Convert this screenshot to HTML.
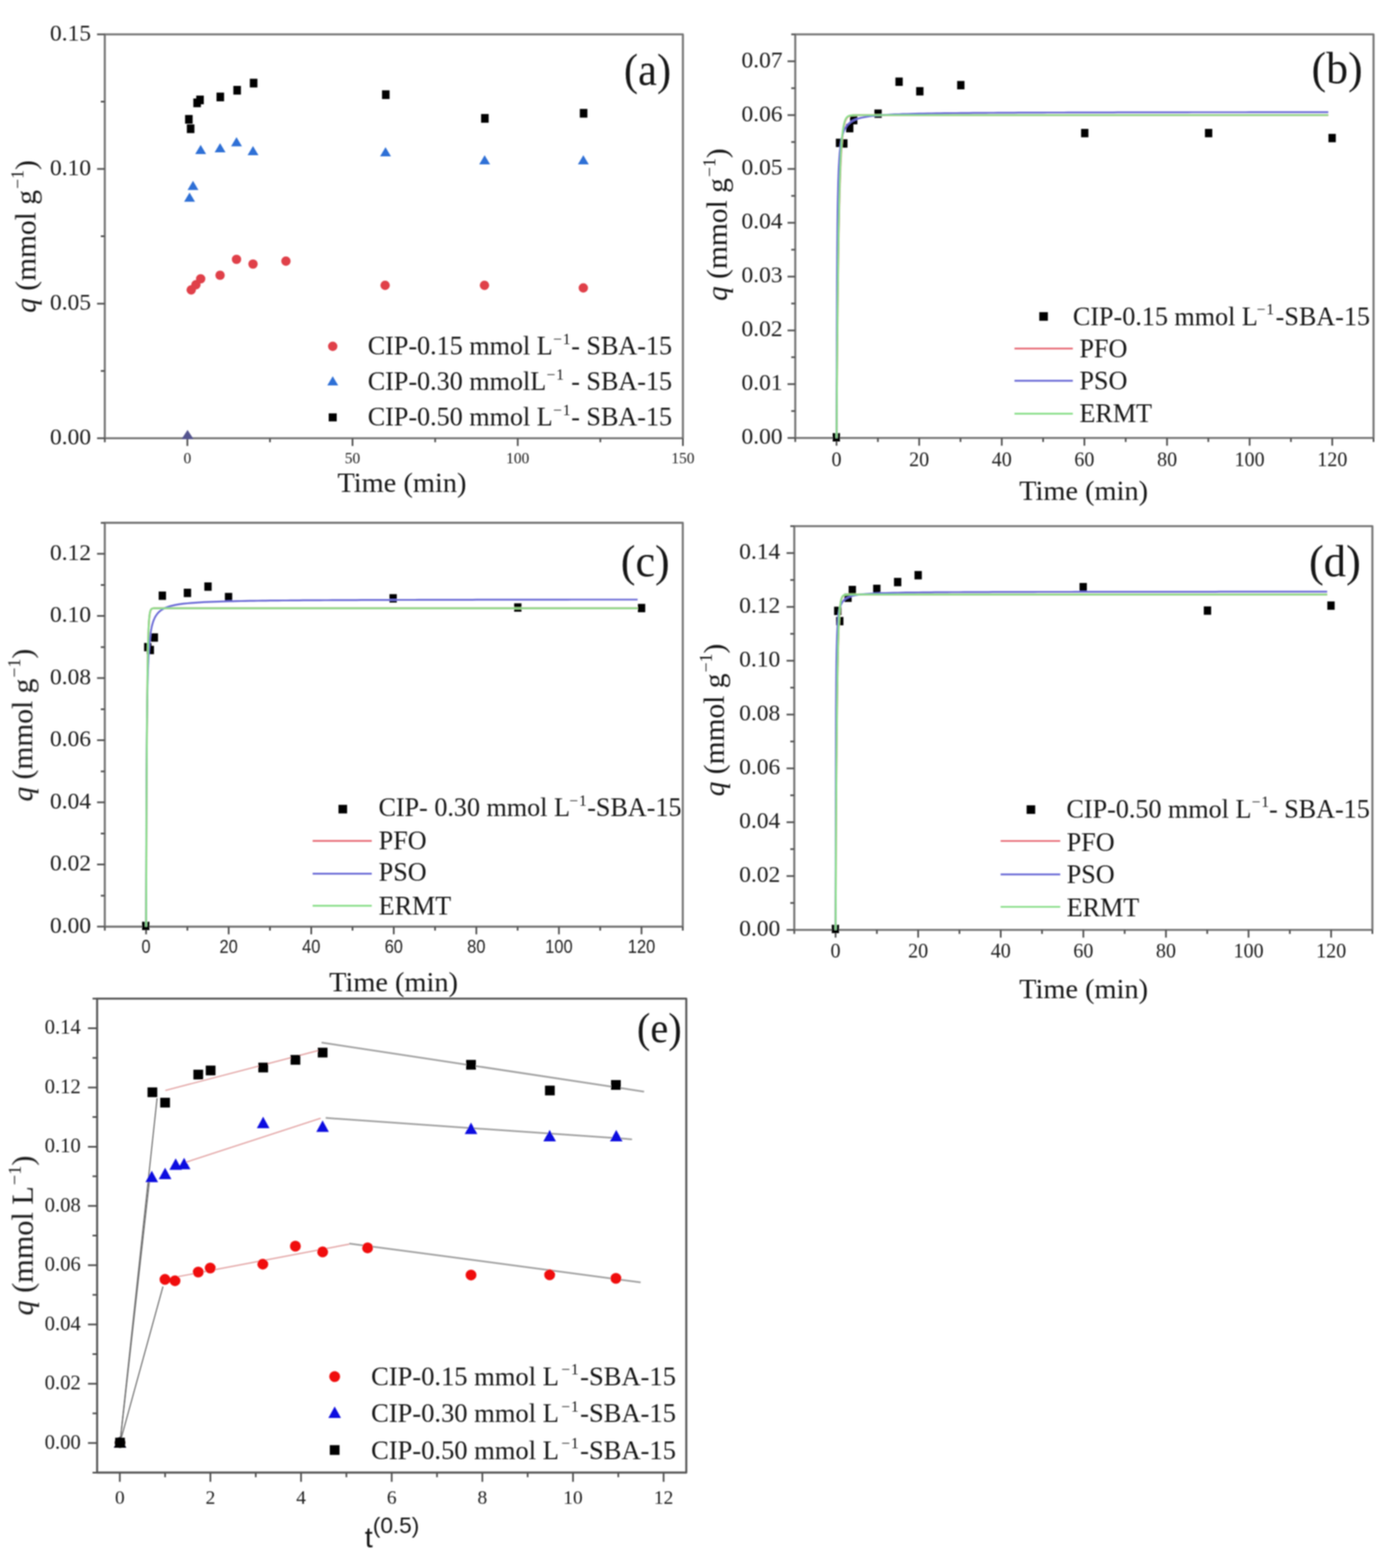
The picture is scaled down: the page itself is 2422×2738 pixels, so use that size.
<!DOCTYPE html>
<html><head><meta charset="utf-8"><title>Adsorption kinetics of CIP on SBA-15</title>
<style>html,body{margin:0;padding:0;background:#fff;overflow:hidden;} svg{display:block;}</style></head>
<body><svg width="2422" height="2738" viewBox="0 0 2422 2738">
<defs><filter id="soft" x="0" y="0" width="100%" height="100%" filterUnits="userSpaceOnUse"><feGaussianBlur stdDeviation="1.2"/></filter></defs>
<rect width="2422" height="2738" fill="#fff"/>
<g filter="url(#soft)" stroke-linejoin="round">
<rect x="183.0" y="60.0" width="1009.5" height="705.3" fill="none" stroke="#767676" stroke-width="3.6"/>
<path d="M327.2 765.3v13.5 M615.6 765.3v13.5 M904.1 765.3v13.5 M1192.5 765.3v13.5 M183.0 765.3v7 M471.4 765.3v7 M759.9 765.3v7 M1048.3 765.3v7 M183.0 765.3h-13.5 M183.0 530.2h-13.5 M183.0 295.1h-13.5 M183.0 60.0h-13.5 M183.0 647.8h-7 M183.0 412.6h-7 M183.0 177.5h-7" stroke="#505050" stroke-width="3" fill="none"/>
<text x="159.0" y="775.8" font-family="'Liberation Serif', 'Times New Roman', serif" font-size="41" text-anchor="end" fill="#1e1e1e" >0.00</text>
<text x="159.0" y="540.7" font-family="'Liberation Serif', 'Times New Roman', serif" font-size="41" text-anchor="end" fill="#1e1e1e" >0.05</text>
<text x="159.0" y="305.6" font-family="'Liberation Serif', 'Times New Roman', serif" font-size="41" text-anchor="end" fill="#1e1e1e" >0.10</text>
<text x="159.0" y="70.5" font-family="'Liberation Serif', 'Times New Roman', serif" font-size="41" text-anchor="end" fill="#1e1e1e" >0.15</text>
<text x="327.2" y="809.0" font-family="'Liberation Serif', 'Times New Roman', serif" font-size="27" text-anchor="middle" fill="#1e1e1e" >0</text>
<text x="615.6" y="809.0" font-family="'Liberation Serif', 'Times New Roman', serif" font-size="27" text-anchor="middle" fill="#1e1e1e" >50</text>
<text x="904.1" y="809.0" font-family="'Liberation Serif', 'Times New Roman', serif" font-size="27" text-anchor="middle" fill="#1e1e1e" >100</text>
<text x="1192.5" y="809.0" font-family="'Liberation Serif', 'Times New Roman', serif" font-size="27" text-anchor="middle" fill="#1e1e1e" >150</text>
<text x="701.9" y="859.4" font-family="'Liberation Serif', 'Times New Roman', serif" font-size="49.5" text-anchor="middle" fill="#141414" >Time (min)</text>
<text transform="translate(1130.7,148.3) scale(0.95,1)" font-family="'Liberation Serif', 'Times New Roman', serif" font-size="78" text-anchor="middle" fill="#141414" >(a)</text>
<text transform="translate(61.8,413.0) rotate(-90)" font-family="'Liberation Serif', 'Times New Roman', serif" font-size="51.5" text-anchor="middle" fill="#141414"><tspan font-style="italic">q</tspan> (mmol g<tspan font-size="30.9" dy="-20.6" dx="2">&#8722;1</tspan><tspan dy="20.6">)</tspan></text>
<path d="M327.5 750.7L338.0 766.7L317.0 766.7Z" fill="#55558f"/>
<circle cx="333.9" cy="506.3" r="8.2" fill="#e0404a"/>
<circle cx="342.1" cy="497.2" r="8.2" fill="#e0404a"/>
<circle cx="350.4" cy="486.9" r="8.2" fill="#e0404a"/>
<circle cx="384.3" cy="480.6" r="8.2" fill="#e0404a"/>
<circle cx="413.0" cy="452.9" r="8.2" fill="#e0404a"/>
<circle cx="441.8" cy="461.1" r="8.2" fill="#e0404a"/>
<circle cx="499.3" cy="456.0" r="8.2" fill="#e0404a"/>
<circle cx="672.5" cy="498.2" r="8.2" fill="#e0404a"/>
<circle cx="846.0" cy="498.2" r="8.2" fill="#e0404a"/>
<circle cx="1018.6" cy="502.8" r="8.2" fill="#e0404a"/>
<path d="M331.0 336.2L340.5 352.2L321.5 352.2Z" fill="#2f6fd6"/>
<path d="M337.0 315.7L346.5 331.7L327.5 331.7Z" fill="#2f6fd6"/>
<path d="M350.4 253.0L359.9 269.0L340.9 269.0Z" fill="#2f6fd6"/>
<path d="M384.3 249.9L393.8 265.9L374.8 265.9Z" fill="#2f6fd6"/>
<path d="M413.0 239.6L422.5 255.6L403.5 255.6Z" fill="#2f6fd6"/>
<path d="M441.8 255.1L451.3 271.1L432.3 271.1Z" fill="#2f6fd6"/>
<path d="M673.2 257.1L682.7 273.1L663.7 273.1Z" fill="#2f6fd6"/>
<path d="M846.3 271.0L855.8 287.0L836.8 287.0Z" fill="#2f6fd6"/>
<path d="M1018.6 271.0L1028.1 287.0L1009.1 287.0Z" fill="#2f6fd6"/>
<rect x="323.2" y="200.8" width="13.2" height="15.2" fill="#000"/>
<rect x="326.3" y="217.2" width="13.2" height="15.2" fill="#000"/>
<rect x="337.6" y="172.0" width="13.2" height="15.2" fill="#000"/>
<rect x="342.7" y="166.9" width="13.2" height="15.2" fill="#000"/>
<rect x="378.1" y="161.7" width="13.2" height="15.2" fill="#000"/>
<rect x="407.5" y="150.0" width="13.2" height="15.2" fill="#000"/>
<rect x="436.3" y="137.5" width="13.2" height="15.2" fill="#000"/>
<rect x="667.1" y="157.7" width="13.2" height="15.2" fill="#000"/>
<rect x="840.1" y="199.1" width="13.2" height="15.2" fill="#000"/>
<rect x="1012.5" y="190.2" width="13.2" height="15.2" fill="#000"/>
<circle cx="581.0" cy="604.7" r="8.2" fill="#e0404a"/>
<path d="M581.0 656.9L590.5 672.9L571.5 672.9Z" fill="#2f6fd6"/>
<rect x="574.0" y="721.8" width="14" height="14" fill="#000"/>
<text font-family="'Liberation Serif', 'Times New Roman', serif" font-size="45.6" fill="#141414"><tspan x="642.2" y="619.3">CIP-0.15 mmol L</tspan><tspan x="966.0" y="600.8" font-size="27">&#8722;</tspan><tspan x="982.8" y="600.8" font-size="27">1</tspan><tspan x="997.5" y="619.3">- SBA-15</tspan></text>
<text font-family="'Liberation Serif', 'Times New Roman', serif" font-size="45.6" fill="#141414"><tspan x="642.2" y="681.4">CIP-0.30 mmolL</tspan><tspan x="954.4" y="662.9" font-size="27">&#8722;</tspan><tspan x="971.2" y="662.9" font-size="27">1</tspan><tspan x="997.5" y="681.4">- SBA-15</tspan></text>
<text font-family="'Liberation Serif', 'Times New Roman', serif" font-size="45.6" fill="#141414"><tspan x="642.2" y="743.4">CIP-0.50 mmol L</tspan><tspan x="966.0" y="724.9" font-size="27">&#8722;</tspan><tspan x="982.8" y="724.9" font-size="27">1</tspan><tspan x="997.5" y="743.4">- SBA-15</tspan></text>
<rect x="1388.7" y="60.0" width="1009.8" height="704.8" fill="none" stroke="#767676" stroke-width="3.6"/>
<path d="M1460.8 764.8v13.5 M1605.1 764.8v13.5 M1749.3 764.8v13.5 M1893.6 764.8v13.5 M2037.9 764.8v13.5 M2182.1 764.8v13.5 M2326.4 764.8v13.5 M1388.7 764.8v7 M1533.0 764.8v7 M1677.2 764.8v7 M1821.5 764.8v7 M1965.7 764.8v7 M2110.0 764.8v7 M2254.2 764.8v7 M2398.5 764.8v7 M1388.7 764.8h-13.5 M1388.7 670.8h-13.5 M1388.7 576.9h-13.5 M1388.7 482.9h-13.5 M1388.7 388.9h-13.5 M1388.7 294.9h-13.5 M1388.7 201.0h-13.5 M1388.7 107.0h-13.5 M1388.7 717.8h-7 M1388.7 623.8h-7 M1388.7 529.9h-7 M1388.7 435.9h-7 M1388.7 341.9h-7 M1388.7 247.9h-7 M1388.7 154.0h-7 M1388.7 60.0h-7" stroke="#505050" stroke-width="3" fill="none"/>
<text x="1366.5" y="775.3" font-family="'Liberation Serif', 'Times New Roman', serif" font-size="41" text-anchor="end" fill="#1e1e1e" >0.00</text>
<text x="1366.5" y="681.3" font-family="'Liberation Serif', 'Times New Roman', serif" font-size="41" text-anchor="end" fill="#1e1e1e" >0.01</text>
<text x="1366.5" y="587.4" font-family="'Liberation Serif', 'Times New Roman', serif" font-size="41" text-anchor="end" fill="#1e1e1e" >0.02</text>
<text x="1366.5" y="493.4" font-family="'Liberation Serif', 'Times New Roman', serif" font-size="41" text-anchor="end" fill="#1e1e1e" >0.03</text>
<text x="1366.5" y="399.4" font-family="'Liberation Serif', 'Times New Roman', serif" font-size="41" text-anchor="end" fill="#1e1e1e" >0.04</text>
<text x="1366.5" y="305.4" font-family="'Liberation Serif', 'Times New Roman', serif" font-size="41" text-anchor="end" fill="#1e1e1e" >0.05</text>
<text x="1366.5" y="211.5" font-family="'Liberation Serif', 'Times New Roman', serif" font-size="41" text-anchor="end" fill="#1e1e1e" >0.06</text>
<text x="1366.5" y="117.5" font-family="'Liberation Serif', 'Times New Roman', serif" font-size="41" text-anchor="end" fill="#1e1e1e" >0.07</text>
<text x="1460.8" y="814.0" font-family="'Liberation Serif', 'Times New Roman', serif" font-size="35" text-anchor="middle" fill="#1e1e1e" >0</text>
<text x="1605.1" y="814.0" font-family="'Liberation Serif', 'Times New Roman', serif" font-size="35" text-anchor="middle" fill="#1e1e1e" >20</text>
<text x="1749.3" y="814.0" font-family="'Liberation Serif', 'Times New Roman', serif" font-size="35" text-anchor="middle" fill="#1e1e1e" >40</text>
<text x="1893.6" y="814.0" font-family="'Liberation Serif', 'Times New Roman', serif" font-size="35" text-anchor="middle" fill="#1e1e1e" >60</text>
<text x="2037.9" y="814.0" font-family="'Liberation Serif', 'Times New Roman', serif" font-size="35" text-anchor="middle" fill="#1e1e1e" >80</text>
<text x="2182.1" y="814.0" font-family="'Liberation Serif', 'Times New Roman', serif" font-size="35" text-anchor="middle" fill="#1e1e1e" >100</text>
<text x="2326.4" y="814.0" font-family="'Liberation Serif', 'Times New Roman', serif" font-size="35" text-anchor="middle" fill="#1e1e1e" >120</text>
<text x="1892.2" y="873.4" font-family="'Liberation Serif', 'Times New Roman', serif" font-size="49.5" text-anchor="middle" fill="#141414" >Time (min)</text>
<text transform="translate(2334.9,144.6) scale(0.98,1)" font-family="'Liberation Serif', 'Times New Roman', serif" font-size="78" text-anchor="middle" fill="#141414" >(b)</text>
<text transform="translate(1269.3,392.3) rotate(-90)" font-family="'Liberation Serif', 'Times New Roman', serif" font-size="51.5" text-anchor="middle" fill="#141414"><tspan font-style="italic">q</tspan> (mmol g<tspan font-size="30.9" dy="-20.6" dx="2">&#8722;1</tspan><tspan dy="20.6">)</tspan></text>
<rect x="1454.0" y="756.3" width="12.8" height="14.6" fill="#000"/>
<rect x="1459.6" y="242.2" width="12.8" height="14.6" fill="#000"/>
<rect x="1467.1" y="243.2" width="12.8" height="14.6" fill="#000"/>
<rect x="1477.4" y="216.5" width="12.8" height="14.6" fill="#000"/>
<rect x="1484.4" y="202.5" width="12.8" height="14.6" fill="#000"/>
<rect x="1526.9" y="191.2" width="12.8" height="14.6" fill="#000"/>
<rect x="1563.6" y="135.4" width="12.8" height="14.6" fill="#000"/>
<rect x="1599.8" y="152.1" width="12.8" height="14.6" fill="#000"/>
<rect x="1671.4" y="141.4" width="12.8" height="14.6" fill="#000"/>
<rect x="1887.8" y="225.1" width="12.8" height="14.6" fill="#000"/>
<rect x="2104.1" y="225.1" width="12.8" height="14.6" fill="#000"/>
<rect x="2319.8" y="233.8" width="12.8" height="14.6" fill="#000"/>
<path d="M1460.8 764.8 L1461.2 713.7 L1461.5 667.2 L1461.9 625.0 L1462.3 586.5 L1462.6 551.6 L1463.0 519.8 L1463.4 490.9 L1463.7 464.6 L1464.1 440.8 L1464.4 419.0 L1464.8 399.3 L1465.2 381.3 L1465.5 364.9 L1465.9 350.1 L1466.2 336.6 L1466.6 324.3 L1467.0 313.1 L1467.3 302.9 L1467.7 293.7 L1468.0 285.3 L1468.4 277.6 L1468.8 270.7 L1469.1 264.4 L1469.5 258.6 L1469.8 253.4 L1470.2 248.7 L1470.6 244.3 L1470.9 240.4 L1471.3 236.8 L1471.6 233.6 L1472.0 230.6 L1472.4 227.9 L1472.7 225.5 L1473.1 223.3 L1473.5 221.2 L1473.8 219.4 L1474.2 217.7 L1474.5 216.2 L1474.9 214.8 L1475.3 213.6 L1475.6 212.4 L1476.0 211.4 L1476.3 210.4 L1476.7 209.6 L1477.1 208.8 L1477.4 208.1 L1477.8 207.4 L1478.1 206.9 L1478.5 206.3 L1478.9 205.8 L1479.2 205.4 L1479.6 205.0 L1479.9 204.6 L1480.3 204.3 L1480.7 204.0 L1481.0 203.7 L1481.4 203.5 L1481.7 203.2 L1482.1 203.0 L1482.5 202.8 L1482.8 202.7 L1483.2 202.5 L1483.5 202.4 L1483.9 202.3 L1484.3 202.1 L1484.6 202.0 L1485.0 201.9 L1485.4 201.8 L1485.7 201.8 L1486.1 201.7 L1486.4 201.6 L1486.8 201.6 L1487.2 201.5 L1487.5 201.5 L1487.9 201.4 L1488.2 201.4 L1488.6 201.3 L1489.0 201.3 L1489.3 201.3 L1489.7 201.2 L1490.0 201.2 L1490.4 201.2 L1490.8 201.2 L1491.1 201.2 L1491.5 201.1 L1491.8 201.1 L1492.2 201.1 L1492.6 201.1 L1492.9 201.1 L1493.3 201.1 L1493.6 201.1 L1494.0 201.1 L1494.4 201.0 L1494.7 201.0 L1495.1 201.0 L1495.5 201.0 L1495.8 201.0 L1496.2 201.0 L1496.5 201.0 L1496.9 201.0 L1497.3 201.0 L1497.6 201.0 L1498.0 201.0 L1498.3 201.0 L1498.7 201.0 L1499.1 201.0 L1499.4 201.0 L1499.8 201.0 L1500.1 201.0 L1500.5 201.0 L1500.9 201.0 L1501.2 201.0 L1501.6 201.0 L1501.9 201.0 L1502.3 201.0 L1502.7 201.0 L1503.0 201.0 L1503.4 201.0 L1503.7 201.0 L1504.1 201.0 L1504.5 201.0 L1511.7 201.0 L1518.9 201.0 L1526.1 201.0 L1533.3 201.0 L1540.5 201.0 L1547.7 201.0 L1555.0 201.0 L1562.2 201.0 L1569.4 201.0 L1576.6 201.0 L1583.8 201.0 L1591.0 201.0 L1598.2 201.0 L1605.4 201.0 L1612.7 201.0 L1619.9 201.0 L1627.1 201.0 L1634.3 201.0 L1641.5 201.0 L1648.7 201.0 L1655.9 201.0 L1663.1 201.0 L1670.4 201.0 L1677.6 201.0 L1684.8 201.0 L1692.0 201.0 L1699.2 201.0 L1706.4 201.0 L1713.6 201.0 L1720.9 201.0 L1728.1 201.0 L1735.3 201.0 L1742.5 201.0 L1749.7 201.0 L1756.9 201.0 L1764.1 201.0 L1771.3 201.0 L1778.6 201.0 L1785.8 201.0 L1793.0 201.0 L1800.2 201.0 L1807.4 201.0 L1814.6 201.0 L1821.8 201.0 L1829.0 201.0 L1836.3 201.0 L1843.5 201.0 L1850.7 201.0 L1857.9 201.0 L1865.1 201.0 L1872.3 201.0 L1879.5 201.0 L1886.7 201.0 L1894.0 201.0 L1901.2 201.0 L1908.4 201.0 L1915.6 201.0 L1922.8 201.0 L1930.0 201.0 L1937.2 201.0 L1944.5 201.0 L1951.7 201.0 L1958.9 201.0 L1966.1 201.0 L1973.3 201.0 L1980.5 201.0 L1987.7 201.0 L1994.9 201.0 L2002.2 201.0 L2009.4 201.0 L2016.6 201.0 L2023.8 201.0 L2031.0 201.0 L2038.2 201.0 L2045.4 201.0 L2052.6 201.0 L2059.9 201.0 L2067.1 201.0 L2074.3 201.0 L2081.5 201.0 L2088.7 201.0 L2095.9 201.0 L2103.1 201.0 L2110.3 201.0 L2117.6 201.0 L2124.8 201.0 L2132.0 201.0 L2139.2 201.0 L2146.4 201.0 L2153.6 201.0 L2160.8 201.0 L2168.0 201.0 L2175.3 201.0 L2182.5 201.0 L2189.7 201.0 L2196.9 201.0 L2204.1 201.0 L2211.3 201.0 L2218.5 201.0 L2225.8 201.0 L2233.0 201.0 L2240.2 201.0 L2247.4 201.0 L2254.6 201.0 L2261.8 201.0 L2269.0 201.0 L2276.2 201.0 L2283.5 201.0 L2290.7 201.0 L2297.9 201.0 L2305.1 201.0 L2312.3 201.0 L2319.5 201.0" stroke="#e8707a" stroke-width="3.2" fill="none" stroke-linejoin="round" stroke-linecap="butt" />
<path d="M1460.8 764.8 L1461.2 586.9 L1461.5 493.6 L1461.9 436.3 L1462.3 397.4 L1462.6 369.3 L1463.0 348.1 L1463.4 331.5 L1463.7 318.2 L1464.1 307.2 L1464.4 298.0 L1464.8 290.2 L1465.2 283.6 L1465.5 277.8 L1465.9 272.7 L1466.2 268.2 L1466.6 264.2 L1467.0 260.6 L1467.3 257.3 L1467.7 254.4 L1468.0 251.8 L1468.4 249.3 L1468.8 247.1 L1469.1 245.0 L1469.5 243.1 L1469.8 241.4 L1470.2 239.8 L1470.6 238.2 L1470.9 236.8 L1471.3 235.5 L1471.6 234.2 L1472.0 233.1 L1472.4 232.0 L1472.7 230.9 L1473.1 229.9 L1473.5 229.0 L1473.8 228.1 L1474.2 227.3 L1474.5 226.5 L1474.9 225.7 L1475.3 225.0 L1475.6 224.3 L1476.0 223.7 L1476.3 223.0 L1476.7 222.4 L1477.1 221.9 L1477.4 221.3 L1477.8 220.8 L1478.1 220.3 L1478.5 219.8 L1478.9 219.3 L1479.2 218.9 L1479.6 218.4 L1479.9 218.0 L1480.3 217.6 L1480.7 217.2 L1481.0 216.9 L1481.4 216.5 L1481.7 216.1 L1482.1 215.8 L1482.5 215.5 L1482.8 215.1 L1483.2 214.8 L1483.5 214.5 L1483.9 214.2 L1484.3 214.0 L1484.6 213.7 L1485.0 213.4 L1485.4 213.2 L1485.7 212.9 L1486.1 212.7 L1486.4 212.4 L1486.8 212.2 L1487.2 212.0 L1487.5 211.8 L1487.9 211.6 L1488.2 211.3 L1488.6 211.1 L1489.0 210.9 L1489.3 210.8 L1489.7 210.6 L1490.0 210.4 L1490.4 210.2 L1490.8 210.0 L1491.1 209.9 L1491.5 209.7 L1491.8 209.5 L1492.2 209.4 L1492.6 209.2 L1492.9 209.1 L1493.3 208.9 L1493.6 208.8 L1494.0 208.6 L1494.4 208.5 L1494.7 208.3 L1495.1 208.2 L1495.5 208.1 L1495.8 208.0 L1496.2 207.8 L1496.5 207.7 L1496.9 207.6 L1497.3 207.5 L1497.6 207.3 L1498.0 207.2 L1498.3 207.1 L1498.7 207.0 L1499.1 206.9 L1499.4 206.8 L1499.8 206.7 L1500.1 206.6 L1500.5 206.5 L1500.9 206.4 L1501.2 206.3 L1501.6 206.2 L1501.9 206.1 L1502.3 206.0 L1502.7 205.9 L1503.0 205.8 L1503.4 205.7 L1503.7 205.7 L1504.1 205.6 L1504.5 205.5 L1511.7 204.1 L1518.9 203.0 L1526.1 202.2 L1533.3 201.5 L1540.5 200.9 L1547.7 200.5 L1555.0 200.1 L1562.2 199.7 L1569.4 199.5 L1576.6 199.2 L1583.8 199.0 L1591.0 198.8 L1598.2 198.6 L1605.4 198.4 L1612.7 198.3 L1619.9 198.1 L1627.1 198.0 L1634.3 197.9 L1641.5 197.8 L1648.7 197.7 L1655.9 197.6 L1663.1 197.5 L1670.4 197.5 L1677.6 197.4 L1684.8 197.3 L1692.0 197.3 L1699.2 197.2 L1706.4 197.2 L1713.6 197.1 L1720.9 197.1 L1728.1 197.0 L1735.3 197.0 L1742.5 196.9 L1749.7 196.9 L1756.9 196.8 L1764.1 196.8 L1771.3 196.8 L1778.6 196.7 L1785.8 196.7 L1793.0 196.7 L1800.2 196.7 L1807.4 196.6 L1814.6 196.6 L1821.8 196.6 L1829.0 196.5 L1836.3 196.5 L1843.5 196.5 L1850.7 196.5 L1857.9 196.5 L1865.1 196.4 L1872.3 196.4 L1879.5 196.4 L1886.7 196.4 L1894.0 196.4 L1901.2 196.3 L1908.4 196.3 L1915.6 196.3 L1922.8 196.3 L1930.0 196.3 L1937.2 196.3 L1944.5 196.3 L1951.7 196.2 L1958.9 196.2 L1966.1 196.2 L1973.3 196.2 L1980.5 196.2 L1987.7 196.2 L1994.9 196.2 L2002.2 196.2 L2009.4 196.1 L2016.6 196.1 L2023.8 196.1 L2031.0 196.1 L2038.2 196.1 L2045.4 196.1 L2052.6 196.1 L2059.9 196.1 L2067.1 196.1 L2074.3 196.1 L2081.5 196.0 L2088.7 196.0 L2095.9 196.0 L2103.1 196.0 L2110.3 196.0 L2117.6 196.0 L2124.8 196.0 L2132.0 196.0 L2139.2 196.0 L2146.4 196.0 L2153.6 196.0 L2160.8 196.0 L2168.0 196.0 L2175.3 196.0 L2182.5 195.9 L2189.7 195.9 L2196.9 195.9 L2204.1 195.9 L2211.3 195.9 L2218.5 195.9 L2225.8 195.9 L2233.0 195.9 L2240.2 195.9 L2247.4 195.9 L2254.6 195.9 L2261.8 195.9 L2269.0 195.9 L2276.2 195.9 L2283.5 195.9 L2290.7 195.9 L2297.9 195.9 L2305.1 195.9 L2312.3 195.9 L2319.5 195.8" stroke="#6a6ad6" stroke-width="3.2" fill="none" stroke-linejoin="round" stroke-linecap="butt" />
<path d="M1460.8 764.8 L1461.2 711.1 L1461.5 662.6 L1461.9 618.7 L1462.3 578.9 L1462.6 542.9 L1463.0 510.4 L1463.4 481.0 L1463.7 454.3 L1464.1 430.2 L1464.4 408.4 L1464.8 388.6 L1465.2 370.8 L1465.5 354.6 L1465.9 340.0 L1466.2 326.8 L1466.6 314.8 L1467.0 304.0 L1467.3 294.2 L1467.7 285.3 L1468.0 277.3 L1468.4 270.0 L1468.8 263.4 L1469.1 257.5 L1469.5 252.1 L1469.8 247.2 L1470.2 242.8 L1470.6 238.9 L1470.9 235.2 L1471.3 232.0 L1471.6 229.0 L1472.0 226.4 L1472.4 223.9 L1472.7 221.8 L1473.1 219.8 L1473.5 218.0 L1473.8 216.4 L1474.2 214.9 L1474.5 213.6 L1474.9 212.4 L1475.3 211.3 L1475.6 210.3 L1476.0 209.4 L1476.3 208.6 L1476.7 207.9 L1477.1 207.2 L1477.4 206.6 L1477.8 206.1 L1478.1 205.6 L1478.5 205.2 L1478.9 204.8 L1479.2 204.4 L1479.6 204.1 L1479.9 203.8 L1480.3 203.5 L1480.7 203.3 L1481.0 203.0 L1481.4 202.8 L1481.7 202.7 L1482.1 202.5 L1482.5 202.4 L1482.8 202.2 L1483.2 202.1 L1483.5 202.0 L1483.9 201.9 L1484.3 201.8 L1484.6 201.7 L1485.0 201.7 L1485.4 201.6 L1485.7 201.5 L1486.1 201.5 L1486.4 201.4 L1486.8 201.4 L1487.2 201.3 L1487.5 201.3 L1487.9 201.3 L1488.2 201.2 L1488.6 201.2 L1489.0 201.2 L1489.3 201.2 L1489.7 201.1 L1490.0 201.1 L1490.4 201.1 L1490.8 201.1 L1491.1 201.1 L1491.5 201.1 L1491.8 201.1 L1492.2 201.1 L1492.6 201.0 L1492.9 201.0 L1493.3 201.0 L1493.6 201.0 L1494.0 201.0 L1494.4 201.0 L1494.7 201.0 L1495.1 201.0 L1495.5 201.0 L1495.8 201.0 L1496.2 201.0 L1496.5 201.0 L1496.9 201.0 L1497.3 201.0 L1497.6 201.0 L1498.0 201.0 L1498.3 201.0 L1498.7 201.0 L1499.1 201.0 L1499.4 201.0 L1499.8 201.0 L1500.1 201.0 L1500.5 201.0 L1500.9 201.0 L1501.2 201.0 L1501.6 201.0 L1501.9 201.0 L1502.3 201.0 L1502.7 201.0 L1503.0 201.0 L1503.4 201.0 L1503.7 201.0 L1504.1 201.0 L1504.5 201.0 L1511.7 201.0 L1518.9 201.0 L1526.1 201.0 L1533.3 201.0 L1540.5 201.0 L1547.7 201.0 L1555.0 201.0 L1562.2 201.0 L1569.4 201.0 L1576.6 201.0 L1583.8 201.0 L1591.0 201.0 L1598.2 201.0 L1605.4 201.0 L1612.7 201.0 L1619.9 201.0 L1627.1 201.0 L1634.3 201.0 L1641.5 201.0 L1648.7 201.0 L1655.9 201.0 L1663.1 201.0 L1670.4 201.0 L1677.6 201.0 L1684.8 201.0 L1692.0 201.0 L1699.2 201.0 L1706.4 201.0 L1713.6 201.0 L1720.9 201.0 L1728.1 201.0 L1735.3 201.0 L1742.5 201.0 L1749.7 201.0 L1756.9 201.0 L1764.1 201.0 L1771.3 201.0 L1778.6 201.0 L1785.8 201.0 L1793.0 201.0 L1800.2 201.0 L1807.4 201.0 L1814.6 201.0 L1821.8 201.0 L1829.0 201.0 L1836.3 201.0 L1843.5 201.0 L1850.7 201.0 L1857.9 201.0 L1865.1 201.0 L1872.3 201.0 L1879.5 201.0 L1886.7 201.0 L1894.0 201.0 L1901.2 201.0 L1908.4 201.0 L1915.6 201.0 L1922.8 201.0 L1930.0 201.0 L1937.2 201.0 L1944.5 201.0 L1951.7 201.0 L1958.9 201.0 L1966.1 201.0 L1973.3 201.0 L1980.5 201.0 L1987.7 201.0 L1994.9 201.0 L2002.2 201.0 L2009.4 201.0 L2016.6 201.0 L2023.8 201.0 L2031.0 201.0 L2038.2 201.0 L2045.4 201.0 L2052.6 201.0 L2059.9 201.0 L2067.1 201.0 L2074.3 201.0 L2081.5 201.0 L2088.7 201.0 L2095.9 201.0 L2103.1 201.0 L2110.3 201.0 L2117.6 201.0 L2124.8 201.0 L2132.0 201.0 L2139.2 201.0 L2146.4 201.0 L2153.6 201.0 L2160.8 201.0 L2168.0 201.0 L2175.3 201.0 L2182.5 201.0 L2189.7 201.0 L2196.9 201.0 L2204.1 201.0 L2211.3 201.0 L2218.5 201.0 L2225.8 201.0 L2233.0 201.0 L2240.2 201.0 L2247.4 201.0 L2254.6 201.0 L2261.8 201.0 L2269.0 201.0 L2276.2 201.0 L2283.5 201.0 L2290.7 201.0 L2297.9 201.0 L2305.1 201.0 L2312.3 201.0 L2319.5 201.0" stroke="#8ade8a" stroke-width="3.2" fill="none" stroke-linejoin="round" stroke-linecap="butt" />
<rect x="1814.8" y="545.1" width="15" height="15" fill="#000"/>
<text font-family="'Liberation Serif', 'Times New Roman', serif" font-size="45.6" fill="#141414"><tspan x="1873.5" y="567.8">CIP-0.15 mmol L</tspan><tspan x="2194.6" y="549.3" font-size="27">&#8722;</tspan><tspan x="2211.3" y="549.3" font-size="27">1</tspan><tspan x="2227.6" y="567.8">-SBA-15</tspan></text>
<path d="M1771.5 608.6 L1873.4 608.6" stroke="#e8707a" stroke-width="3.2" fill="none" stroke-linejoin="round" stroke-linecap="butt" />
<text x="1885.0" y="624.1" font-family="'Liberation Serif', 'Times New Roman', serif" font-size="45.6" text-anchor="start" fill="#141414" >PFO</text>
<path d="M1771.5 664.9 L1873.4 664.9" stroke="#6a6ad6" stroke-width="3.2" fill="none" stroke-linejoin="round" stroke-linecap="butt" />
<text x="1885.0" y="679.7" font-family="'Liberation Serif', 'Times New Roman', serif" font-size="45.6" text-anchor="start" fill="#141414" >PSO</text>
<path d="M1771.5 722.3 L1873.4 722.3" stroke="#8ade8a" stroke-width="3.2" fill="none" stroke-linejoin="round" stroke-linecap="butt" />
<text x="1885.0" y="737.2" font-family="'Liberation Serif', 'Times New Roman', serif" font-size="45.6" text-anchor="start" fill="#141414" >ERMT</text>
<rect x="183.0" y="912.9" width="1009.3" height="705.2" fill="none" stroke="#767676" stroke-width="3.6"/>
<path d="M255.1 1618.1v13.5 M399.3 1618.1v13.5 M543.5 1618.1v13.5 M687.6 1618.1v13.5 M831.8 1618.1v13.5 M976.0 1618.1v13.5 M1120.2 1618.1v13.5 M183.0 1618.1v7 M327.2 1618.1v7 M471.4 1618.1v7 M615.6 1618.1v7 M759.7 1618.1v7 M903.9 1618.1v7 M1048.1 1618.1v7 M1192.3 1618.1v7 M183.0 1618.1h-13.5 M183.0 1509.6h-13.5 M183.0 1401.1h-13.5 M183.0 1292.6h-13.5 M183.0 1184.1h-13.5 M183.0 1075.6h-13.5 M183.0 967.1h-13.5 M183.0 1563.9h-7 M183.0 1455.4h-7 M183.0 1346.9h-7 M183.0 1238.4h-7 M183.0 1129.9h-7 M183.0 1021.4h-7 M183.0 912.9h-7" stroke="#505050" stroke-width="3" fill="none"/>
<text x="159.0" y="1628.6" font-family="'Liberation Serif', 'Times New Roman', serif" font-size="41" text-anchor="end" fill="#1e1e1e" >0.00</text>
<text x="159.0" y="1520.1" font-family="'Liberation Serif', 'Times New Roman', serif" font-size="41" text-anchor="end" fill="#1e1e1e" >0.02</text>
<text x="159.0" y="1411.6" font-family="'Liberation Serif', 'Times New Roman', serif" font-size="41" text-anchor="end" fill="#1e1e1e" >0.04</text>
<text x="159.0" y="1303.1" font-family="'Liberation Serif', 'Times New Roman', serif" font-size="41" text-anchor="end" fill="#1e1e1e" >0.06</text>
<text x="159.0" y="1194.6" font-family="'Liberation Serif', 'Times New Roman', serif" font-size="41" text-anchor="end" fill="#1e1e1e" >0.08</text>
<text x="159.0" y="1086.1" font-family="'Liberation Serif', 'Times New Roman', serif" font-size="41" text-anchor="end" fill="#1e1e1e" >0.10</text>
<text x="159.0" y="977.6" font-family="'Liberation Serif', 'Times New Roman', serif" font-size="41" text-anchor="end" fill="#1e1e1e" >0.12</text>
<text transform="translate(255.1,1664.0) scale(0.87,1)" font-family="'Liberation Sans', Arial, sans-serif" font-size="33" text-anchor="middle" fill="#1e1e1e" >0</text>
<text transform="translate(399.3,1664.0) scale(0.87,1)" font-family="'Liberation Sans', Arial, sans-serif" font-size="33" text-anchor="middle" fill="#1e1e1e" >20</text>
<text transform="translate(543.5,1664.0) scale(0.87,1)" font-family="'Liberation Sans', Arial, sans-serif" font-size="33" text-anchor="middle" fill="#1e1e1e" >40</text>
<text transform="translate(687.6,1664.0) scale(0.87,1)" font-family="'Liberation Sans', Arial, sans-serif" font-size="33" text-anchor="middle" fill="#1e1e1e" >60</text>
<text transform="translate(831.8,1664.0) scale(0.87,1)" font-family="'Liberation Sans', Arial, sans-serif" font-size="33" text-anchor="middle" fill="#1e1e1e" >80</text>
<text transform="translate(976.0,1664.0) scale(0.87,1)" font-family="'Liberation Sans', Arial, sans-serif" font-size="33" text-anchor="middle" fill="#1e1e1e" >100</text>
<text transform="translate(1120.2,1664.0) scale(0.87,1)" font-family="'Liberation Sans', Arial, sans-serif" font-size="33" text-anchor="middle" fill="#1e1e1e" >120</text>
<text x="687.3" y="1730.9" font-family="'Liberation Serif', 'Times New Roman', serif" font-size="49.5" text-anchor="middle" fill="#141414" >Time (min)</text>
<text transform="translate(1126.7,1006.2) scale(0.98,1)" font-family="'Liberation Serif', 'Times New Roman', serif" font-size="78.5" text-anchor="middle" fill="#141414" >(c)</text>
<text transform="translate(56.2,1266.3) rotate(-90)" font-family="'Liberation Serif', 'Times New Roman', serif" font-size="51.5" text-anchor="middle" fill="#141414"><tspan font-style="italic">q</tspan> (mmol g<tspan font-size="30.9" dy="-20.6" dx="2">&#8722;1</tspan><tspan dy="20.6">)</tspan></text>
<rect x="248.1" y="1609.5" width="12.8" height="14.6" fill="#000"/>
<rect x="251.6" y="1122.7" width="12.8" height="14.6" fill="#000"/>
<rect x="256.1" y="1127.7" width="12.8" height="14.6" fill="#000"/>
<rect x="263.1" y="1105.9" width="12.8" height="14.6" fill="#000"/>
<rect x="277.1" y="1032.9" width="12.8" height="14.6" fill="#000"/>
<rect x="320.9" y="1028.0" width="12.8" height="14.6" fill="#000"/>
<rect x="356.8" y="1017.0" width="12.8" height="14.6" fill="#000"/>
<rect x="392.7" y="1035.3" width="12.8" height="14.6" fill="#000"/>
<rect x="680.1" y="1037.5" width="12.8" height="14.6" fill="#000"/>
<rect x="897.8" y="1053.5" width="12.8" height="14.6" fill="#000"/>
<rect x="1113.9" y="1054.5" width="12.8" height="14.6" fill="#000"/>
<path d="M255.1 1618.1 L255.5 1506.1 L255.8 1416.6 L256.2 1345.2 L256.5 1288.1 L256.9 1242.6 L257.3 1206.2 L257.6 1177.2 L258.0 1154.0 L258.3 1135.5 L258.7 1120.7 L259.1 1108.9 L259.4 1099.4 L259.8 1091.9 L260.1 1085.9 L260.5 1081.1 L260.9 1077.3 L261.2 1074.2 L261.6 1071.8 L261.9 1069.8 L262.3 1068.3 L262.7 1067.0 L263.0 1066.0 L263.4 1065.2 L263.7 1064.6 L264.1 1064.1 L264.5 1063.7 L264.8 1063.4 L265.2 1063.1 L265.5 1062.9 L265.9 1062.7 L266.3 1062.6 L266.6 1062.5 L267.0 1062.4 L267.3 1062.3 L267.7 1062.3 L268.1 1062.2 L268.4 1062.2 L268.8 1062.2 L269.2 1062.2 L269.5 1062.1 L269.9 1062.1 L270.2 1062.1 L270.6 1062.1 L271.0 1062.1 L271.3 1062.1 L271.7 1062.1 L272.0 1062.1 L272.4 1062.1 L272.8 1062.1 L273.1 1062.1 L273.5 1062.1 L273.8 1062.1 L274.2 1062.1 L274.6 1062.1 L274.9 1062.1 L275.3 1062.1 L275.6 1062.1 L276.0 1062.1 L276.4 1062.1 L276.7 1062.1 L277.1 1062.1 L277.4 1062.1 L277.8 1062.1 L278.2 1062.1 L278.5 1062.1 L278.9 1062.1 L279.2 1062.1 L279.6 1062.1 L280.0 1062.1 L280.3 1062.1 L280.7 1062.1 L281.0 1062.1 L281.4 1062.1 L281.8 1062.1 L282.1 1062.1 L282.5 1062.1 L282.8 1062.1 L283.2 1062.1 L283.6 1062.1 L283.9 1062.1 L284.3 1062.1 L284.7 1062.1 L285.0 1062.1 L285.4 1062.1 L285.7 1062.1 L286.1 1062.1 L286.5 1062.1 L286.8 1062.1 L287.2 1062.1 L287.5 1062.1 L287.9 1062.1 L288.3 1062.1 L288.6 1062.1 L289.0 1062.1 L289.3 1062.1 L289.7 1062.1 L290.1 1062.1 L290.4 1062.1 L290.8 1062.1 L291.1 1062.1 L291.5 1062.1 L291.9 1062.1 L292.2 1062.1 L292.6 1062.1 L292.9 1062.1 L293.3 1062.1 L293.7 1062.1 L294.0 1062.1 L294.4 1062.1 L294.7 1062.1 L295.1 1062.1 L295.5 1062.1 L295.8 1062.1 L296.2 1062.1 L296.5 1062.1 L296.9 1062.1 L297.3 1062.1 L297.6 1062.1 L298.0 1062.1 L298.3 1062.1 L298.7 1062.1 L305.9 1062.1 L313.1 1062.1 L320.3 1062.1 L327.5 1062.1 L334.8 1062.1 L342.0 1062.1 L349.2 1062.1 L356.4 1062.1 L363.6 1062.1 L370.8 1062.1 L378.0 1062.1 L385.2 1062.1 L392.4 1062.1 L399.6 1062.1 L406.8 1062.1 L414.1 1062.1 L421.3 1062.1 L428.5 1062.1 L435.7 1062.1 L442.9 1062.1 L450.1 1062.1 L457.3 1062.1 L464.5 1062.1 L471.7 1062.1 L478.9 1062.1 L486.2 1062.1 L493.4 1062.1 L500.6 1062.1 L507.8 1062.1 L515.0 1062.1 L522.2 1062.1 L529.4 1062.1 L536.6 1062.1 L543.8 1062.1 L551.0 1062.1 L558.2 1062.1 L565.5 1062.1 L572.7 1062.1 L579.9 1062.1 L587.1 1062.1 L594.3 1062.1 L601.5 1062.1 L608.7 1062.1 L615.9 1062.1 L623.1 1062.1 L630.3 1062.1 L637.5 1062.1 L644.8 1062.1 L652.0 1062.1 L659.2 1062.1 L666.4 1062.1 L673.6 1062.1 L680.8 1062.1 L688.0 1062.1 L695.2 1062.1 L702.4 1062.1 L709.6 1062.1 L716.8 1062.1 L724.1 1062.1 L731.3 1062.1 L738.5 1062.1 L745.7 1062.1 L752.9 1062.1 L760.1 1062.1 L767.3 1062.1 L774.5 1062.1 L781.7 1062.1 L788.9 1062.1 L796.1 1062.1 L803.4 1062.1 L810.6 1062.1 L817.8 1062.1 L825.0 1062.1 L832.2 1062.1 L839.4 1062.1 L846.6 1062.1 L853.8 1062.1 L861.0 1062.1 L868.2 1062.1 L875.5 1062.1 L882.7 1062.1 L889.9 1062.1 L897.1 1062.1 L904.3 1062.1 L911.5 1062.1 L918.7 1062.1 L925.9 1062.1 L933.1 1062.1 L940.3 1062.1 L947.5 1062.1 L954.8 1062.1 L962.0 1062.1 L969.2 1062.1 L976.4 1062.1 L983.6 1062.1 L990.8 1062.1 L998.0 1062.1 L1005.2 1062.1 L1012.4 1062.1 L1019.6 1062.1 L1026.8 1062.1 L1034.1 1062.1 L1041.3 1062.1 L1048.5 1062.1 L1055.7 1062.1 L1062.9 1062.1 L1070.1 1062.1 L1077.3 1062.1 L1084.5 1062.1 L1091.7 1062.1 L1098.9 1062.1 L1106.1 1062.1 L1113.4 1062.1" stroke="#e8707a" stroke-width="3.2" fill="none" stroke-linejoin="round" stroke-linecap="butt" />
<path d="M255.1 1618.1 L255.5 1456.1 L255.8 1365.7 L256.2 1307.9 L256.5 1267.9 L256.9 1238.5 L257.3 1215.9 L257.6 1198.1 L258.0 1183.7 L258.3 1171.8 L258.7 1161.8 L259.1 1153.3 L259.4 1145.9 L259.8 1139.5 L260.1 1133.9 L260.5 1128.9 L260.9 1124.4 L261.2 1120.4 L261.6 1116.8 L261.9 1113.5 L262.3 1110.6 L262.7 1107.8 L263.0 1105.3 L263.4 1103.0 L263.7 1100.9 L264.1 1098.9 L264.5 1097.0 L264.8 1095.3 L265.2 1093.7 L265.5 1092.2 L265.9 1090.8 L266.3 1089.5 L266.6 1088.2 L267.0 1087.1 L267.3 1085.9 L267.7 1084.9 L268.1 1083.9 L268.4 1082.9 L268.8 1082.0 L269.2 1081.2 L269.5 1080.4 L269.9 1079.6 L270.2 1078.8 L270.6 1078.1 L271.0 1077.4 L271.3 1076.8 L271.7 1076.2 L272.0 1075.6 L272.4 1075.0 L272.8 1074.4 L273.1 1073.9 L273.5 1073.4 L273.8 1072.9 L274.2 1072.4 L274.6 1071.9 L274.9 1071.5 L275.3 1071.1 L275.6 1070.6 L276.0 1070.2 L276.4 1069.9 L276.7 1069.5 L277.1 1069.1 L277.4 1068.8 L277.8 1068.4 L278.2 1068.1 L278.5 1067.8 L278.9 1067.5 L279.2 1067.2 L279.6 1066.9 L280.0 1066.6 L280.3 1066.3 L280.7 1066.0 L281.0 1065.8 L281.4 1065.5 L281.8 1065.2 L282.1 1065.0 L282.5 1064.8 L282.8 1064.5 L283.2 1064.3 L283.6 1064.1 L283.9 1063.9 L284.3 1063.7 L284.7 1063.5 L285.0 1063.3 L285.4 1063.1 L285.7 1062.9 L286.1 1062.7 L286.5 1062.5 L286.8 1062.3 L287.2 1062.1 L287.5 1062.0 L287.9 1061.8 L288.3 1061.6 L288.6 1061.5 L289.0 1061.3 L289.3 1061.2 L289.7 1061.0 L290.1 1060.9 L290.4 1060.7 L290.8 1060.6 L291.1 1060.5 L291.5 1060.3 L291.9 1060.2 L292.2 1060.1 L292.6 1059.9 L292.9 1059.8 L293.3 1059.7 L293.7 1059.6 L294.0 1059.4 L294.4 1059.3 L294.7 1059.2 L295.1 1059.1 L295.5 1059.0 L295.8 1058.9 L296.2 1058.8 L296.5 1058.7 L296.9 1058.5 L297.3 1058.4 L297.6 1058.3 L298.0 1058.2 L298.3 1058.2 L298.7 1058.1 L305.9 1056.4 L313.1 1055.2 L320.3 1054.2 L327.5 1053.5 L334.8 1052.8 L342.0 1052.3 L349.2 1051.8 L356.4 1051.4 L363.6 1051.1 L370.8 1050.8 L378.0 1050.6 L385.2 1050.3 L392.4 1050.1 L399.6 1049.9 L406.8 1049.8 L414.1 1049.6 L421.3 1049.5 L428.5 1049.3 L435.7 1049.2 L442.9 1049.1 L450.1 1049.0 L457.3 1048.9 L464.5 1048.8 L471.7 1048.7 L478.9 1048.7 L486.2 1048.6 L493.4 1048.5 L500.6 1048.5 L507.8 1048.4 L515.0 1048.3 L522.2 1048.3 L529.4 1048.2 L536.6 1048.2 L543.8 1048.1 L551.0 1048.1 L558.2 1048.1 L565.5 1048.0 L572.7 1048.0 L579.9 1047.9 L587.1 1047.9 L594.3 1047.9 L601.5 1047.8 L608.7 1047.8 L615.9 1047.8 L623.1 1047.8 L630.3 1047.7 L637.5 1047.7 L644.8 1047.7 L652.0 1047.7 L659.2 1047.6 L666.4 1047.6 L673.6 1047.6 L680.8 1047.6 L688.0 1047.5 L695.2 1047.5 L702.4 1047.5 L709.6 1047.5 L716.8 1047.5 L724.1 1047.5 L731.3 1047.4 L738.5 1047.4 L745.7 1047.4 L752.9 1047.4 L760.1 1047.4 L767.3 1047.4 L774.5 1047.3 L781.7 1047.3 L788.9 1047.3 L796.1 1047.3 L803.4 1047.3 L810.6 1047.3 L817.8 1047.3 L825.0 1047.3 L832.2 1047.2 L839.4 1047.2 L846.6 1047.2 L853.8 1047.2 L861.0 1047.2 L868.2 1047.2 L875.5 1047.2 L882.7 1047.2 L889.9 1047.2 L897.1 1047.2 L904.3 1047.1 L911.5 1047.1 L918.7 1047.1 L925.9 1047.1 L933.1 1047.1 L940.3 1047.1 L947.5 1047.1 L954.8 1047.1 L962.0 1047.1 L969.2 1047.1 L976.4 1047.1 L983.6 1047.1 L990.8 1047.1 L998.0 1047.0 L1005.2 1047.0 L1012.4 1047.0 L1019.6 1047.0 L1026.8 1047.0 L1034.1 1047.0 L1041.3 1047.0 L1048.5 1047.0 L1055.7 1047.0 L1062.9 1047.0 L1070.1 1047.0 L1077.3 1047.0 L1084.5 1047.0 L1091.7 1047.0 L1098.9 1047.0 L1106.1 1047.0 L1113.4 1047.0" stroke="#6a6ad6" stroke-width="3.2" fill="none" stroke-linejoin="round" stroke-linecap="butt" />
<path d="M255.1 1618.1 L255.5 1503.9 L255.8 1413.1 L256.2 1341.0 L256.5 1283.7 L256.9 1238.1 L257.3 1202.0 L257.6 1173.2 L258.0 1150.4 L258.3 1132.2 L258.7 1117.8 L259.1 1106.4 L259.4 1097.3 L259.8 1090.0 L260.1 1084.3 L260.5 1079.7 L260.9 1076.1 L261.2 1073.2 L261.6 1070.9 L261.9 1069.1 L262.3 1067.7 L262.7 1066.5 L263.0 1065.6 L263.4 1064.9 L263.7 1064.3 L264.1 1063.8 L264.5 1063.5 L264.8 1063.2 L265.2 1063.0 L265.5 1062.8 L265.9 1062.6 L266.3 1062.5 L266.6 1062.4 L267.0 1062.4 L267.3 1062.3 L267.7 1062.3 L268.1 1062.2 L268.4 1062.2 L268.8 1062.2 L269.2 1062.1 L269.5 1062.1 L269.9 1062.1 L270.2 1062.1 L270.6 1062.1 L271.0 1062.1 L271.3 1062.1 L271.7 1062.1 L272.0 1062.1 L272.4 1062.1 L272.8 1062.1 L273.1 1062.1 L273.5 1062.1 L273.8 1062.1 L274.2 1062.1 L274.6 1062.1 L274.9 1062.1 L275.3 1062.1 L275.6 1062.1 L276.0 1062.1 L276.4 1062.1 L276.7 1062.1 L277.1 1062.1 L277.4 1062.1 L277.8 1062.1 L278.2 1062.1 L278.5 1062.1 L278.9 1062.1 L279.2 1062.1 L279.6 1062.1 L280.0 1062.1 L280.3 1062.1 L280.7 1062.1 L281.0 1062.1 L281.4 1062.1 L281.8 1062.1 L282.1 1062.1 L282.5 1062.1 L282.8 1062.1 L283.2 1062.1 L283.6 1062.1 L283.9 1062.1 L284.3 1062.1 L284.7 1062.1 L285.0 1062.1 L285.4 1062.1 L285.7 1062.1 L286.1 1062.1 L286.5 1062.1 L286.8 1062.1 L287.2 1062.1 L287.5 1062.1 L287.9 1062.1 L288.3 1062.1 L288.6 1062.1 L289.0 1062.1 L289.3 1062.1 L289.7 1062.1 L290.1 1062.1 L290.4 1062.1 L290.8 1062.1 L291.1 1062.1 L291.5 1062.1 L291.9 1062.1 L292.2 1062.1 L292.6 1062.1 L292.9 1062.1 L293.3 1062.1 L293.7 1062.1 L294.0 1062.1 L294.4 1062.1 L294.7 1062.1 L295.1 1062.1 L295.5 1062.1 L295.8 1062.1 L296.2 1062.1 L296.5 1062.1 L296.9 1062.1 L297.3 1062.1 L297.6 1062.1 L298.0 1062.1 L298.3 1062.1 L298.7 1062.1 L305.9 1062.1 L313.1 1062.1 L320.3 1062.1 L327.5 1062.1 L334.8 1062.1 L342.0 1062.1 L349.2 1062.1 L356.4 1062.1 L363.6 1062.1 L370.8 1062.1 L378.0 1062.1 L385.2 1062.1 L392.4 1062.1 L399.6 1062.1 L406.8 1062.1 L414.1 1062.1 L421.3 1062.1 L428.5 1062.1 L435.7 1062.1 L442.9 1062.1 L450.1 1062.1 L457.3 1062.1 L464.5 1062.1 L471.7 1062.1 L478.9 1062.1 L486.2 1062.1 L493.4 1062.1 L500.6 1062.1 L507.8 1062.1 L515.0 1062.1 L522.2 1062.1 L529.4 1062.1 L536.6 1062.1 L543.8 1062.1 L551.0 1062.1 L558.2 1062.1 L565.5 1062.1 L572.7 1062.1 L579.9 1062.1 L587.1 1062.1 L594.3 1062.1 L601.5 1062.1 L608.7 1062.1 L615.9 1062.1 L623.1 1062.1 L630.3 1062.1 L637.5 1062.1 L644.8 1062.1 L652.0 1062.1 L659.2 1062.1 L666.4 1062.1 L673.6 1062.1 L680.8 1062.1 L688.0 1062.1 L695.2 1062.1 L702.4 1062.1 L709.6 1062.1 L716.8 1062.1 L724.1 1062.1 L731.3 1062.1 L738.5 1062.1 L745.7 1062.1 L752.9 1062.1 L760.1 1062.1 L767.3 1062.1 L774.5 1062.1 L781.7 1062.1 L788.9 1062.1 L796.1 1062.1 L803.4 1062.1 L810.6 1062.1 L817.8 1062.1 L825.0 1062.1 L832.2 1062.1 L839.4 1062.1 L846.6 1062.1 L853.8 1062.1 L861.0 1062.1 L868.2 1062.1 L875.5 1062.1 L882.7 1062.1 L889.9 1062.1 L897.1 1062.1 L904.3 1062.1 L911.5 1062.1 L918.7 1062.1 L925.9 1062.1 L933.1 1062.1 L940.3 1062.1 L947.5 1062.1 L954.8 1062.1 L962.0 1062.1 L969.2 1062.1 L976.4 1062.1 L983.6 1062.1 L990.8 1062.1 L998.0 1062.1 L1005.2 1062.1 L1012.4 1062.1 L1019.6 1062.1 L1026.8 1062.1 L1034.1 1062.1 L1041.3 1062.1 L1048.5 1062.1 L1055.7 1062.1 L1062.9 1062.1 L1070.1 1062.1 L1077.3 1062.1 L1084.5 1062.1 L1091.7 1062.1 L1098.9 1062.1 L1106.1 1062.1 L1113.4 1062.1" stroke="#8ade8a" stroke-width="3.2" fill="none" stroke-linejoin="round" stroke-linecap="butt" />
<rect x="591.1" y="1405.4" width="15" height="15" fill="#000"/>
<text font-family="'Liberation Serif', 'Times New Roman', serif" font-size="45.6" fill="#141414"><tspan x="660.9" y="1425.4">CIP- 0.30 mmol L</tspan><tspan x="994.2" y="1406.9" font-size="27">&#8722;</tspan><tspan x="1011.0" y="1406.9" font-size="27">1</tspan><tspan x="1025.4" y="1425.4">-SBA-15</tspan></text>
<path d="M545.9 1468.3 L649.2 1468.3" stroke="#e8707a" stroke-width="3.2" fill="none" stroke-linejoin="round" stroke-linecap="butt" />
<text x="661.3" y="1482.8" font-family="'Liberation Serif', 'Times New Roman', serif" font-size="45.6" text-anchor="start" fill="#141414" >PFO</text>
<path d="M545.9 1525.6 L649.2 1525.6" stroke="#6a6ad6" stroke-width="3.2" fill="none" stroke-linejoin="round" stroke-linecap="butt" />
<text x="661.3" y="1538.4" font-family="'Liberation Serif', 'Times New Roman', serif" font-size="45.6" text-anchor="start" fill="#141414" >PSO</text>
<path d="M545.9 1581.6 L649.2 1581.6" stroke="#8ade8a" stroke-width="3.2" fill="none" stroke-linejoin="round" stroke-linecap="butt" />
<text x="661.3" y="1596.5" font-family="'Liberation Serif', 'Times New Roman', serif" font-size="45.6" text-anchor="start" fill="#141414" >ERMT</text>
<rect x="1387.0" y="918.7" width="1009.5" height="705.0" fill="none" stroke="#767676" stroke-width="3.6"/>
<path d="M1459.1 1623.7v13.5 M1603.3 1623.7v13.5 M1747.5 1623.7v13.5 M1891.8 1623.7v13.5 M2036.0 1623.7v13.5 M2180.2 1623.7v13.5 M2324.4 1623.7v13.5 M1387.0 1623.7v7 M1531.2 1623.7v7 M1675.4 1623.7v7 M1819.6 1623.7v7 M1963.9 1623.7v7 M2108.1 1623.7v7 M2252.3 1623.7v7 M2396.5 1623.7v7 M1387.0 1623.7h-13.5 M1387.0 1529.7h-13.5 M1387.0 1435.7h-13.5 M1387.0 1341.7h-13.5 M1387.0 1247.7h-13.5 M1387.0 1153.7h-13.5 M1387.0 1059.7h-13.5 M1387.0 965.7h-13.5 M1387.0 1576.7h-7 M1387.0 1482.7h-7 M1387.0 1388.7h-7 M1387.0 1294.7h-7 M1387.0 1200.7h-7 M1387.0 1106.7h-7 M1387.0 1012.7h-7 M1387.0 918.7h-7" stroke="#505050" stroke-width="3" fill="none"/>
<text x="1362.5" y="1634.2" font-family="'Liberation Serif', 'Times New Roman', serif" font-size="41" text-anchor="end" fill="#1e1e1e" >0.00</text>
<text x="1362.5" y="1540.2" font-family="'Liberation Serif', 'Times New Roman', serif" font-size="41" text-anchor="end" fill="#1e1e1e" >0.02</text>
<text x="1362.5" y="1446.2" font-family="'Liberation Serif', 'Times New Roman', serif" font-size="41" text-anchor="end" fill="#1e1e1e" >0.04</text>
<text x="1362.5" y="1352.2" font-family="'Liberation Serif', 'Times New Roman', serif" font-size="41" text-anchor="end" fill="#1e1e1e" >0.06</text>
<text x="1362.5" y="1258.2" font-family="'Liberation Serif', 'Times New Roman', serif" font-size="41" text-anchor="end" fill="#1e1e1e" >0.08</text>
<text x="1362.5" y="1164.2" font-family="'Liberation Serif', 'Times New Roman', serif" font-size="41" text-anchor="end" fill="#1e1e1e" >0.10</text>
<text x="1362.5" y="1070.2" font-family="'Liberation Serif', 'Times New Roman', serif" font-size="41" text-anchor="end" fill="#1e1e1e" >0.12</text>
<text x="1362.5" y="976.2" font-family="'Liberation Serif', 'Times New Roman', serif" font-size="41" text-anchor="end" fill="#1e1e1e" >0.14</text>
<text x="1459.1" y="1672.0" font-family="'Liberation Serif', 'Times New Roman', serif" font-size="35" text-anchor="middle" fill="#1e1e1e" >0</text>
<text x="1603.3" y="1672.0" font-family="'Liberation Serif', 'Times New Roman', serif" font-size="35" text-anchor="middle" fill="#1e1e1e" >20</text>
<text x="1747.5" y="1672.0" font-family="'Liberation Serif', 'Times New Roman', serif" font-size="35" text-anchor="middle" fill="#1e1e1e" >40</text>
<text x="1891.8" y="1672.0" font-family="'Liberation Serif', 'Times New Roman', serif" font-size="35" text-anchor="middle" fill="#1e1e1e" >60</text>
<text x="2036.0" y="1672.0" font-family="'Liberation Serif', 'Times New Roman', serif" font-size="35" text-anchor="middle" fill="#1e1e1e" >80</text>
<text x="2180.2" y="1672.0" font-family="'Liberation Serif', 'Times New Roman', serif" font-size="35" text-anchor="middle" fill="#1e1e1e" >100</text>
<text x="2324.4" y="1672.0" font-family="'Liberation Serif', 'Times New Roman', serif" font-size="35" text-anchor="middle" fill="#1e1e1e" >120</text>
<text x="1892.2" y="1743.1" font-family="'Liberation Serif', 'Times New Roman', serif" font-size="49.5" text-anchor="middle" fill="#141414" >Time (min)</text>
<text transform="translate(2331.0,1006.2) scale(0.99,1)" font-family="'Liberation Serif', 'Times New Roman', serif" font-size="78.5" text-anchor="middle" fill="#141414" >(d)</text>
<text transform="translate(1263.8,1257.3) rotate(-90)" font-family="'Liberation Serif', 'Times New Roman', serif" font-size="51.5" text-anchor="middle" fill="#141414"><tspan font-style="italic">q</tspan> (mmol g<tspan font-size="30.9" dy="-20.6" dx="2">&#8722;1</tspan><tspan dy="20.6">)</tspan></text>
<rect x="1452.4" y="1614.8" width="12.8" height="14.6" fill="#000"/>
<rect x="1456.5" y="1059.4" width="12.8" height="14.6" fill="#000"/>
<rect x="1460.0" y="1077.3" width="12.8" height="14.6" fill="#000"/>
<rect x="1474.4" y="1036.5" width="12.8" height="14.6" fill="#000"/>
<rect x="1481.9" y="1023.0" width="12.8" height="14.6" fill="#000"/>
<rect x="1524.7" y="1021.0" width="12.8" height="14.6" fill="#000"/>
<rect x="1561.1" y="1009.1" width="12.8" height="14.6" fill="#000"/>
<rect x="1596.9" y="997.1" width="12.8" height="14.6" fill="#000"/>
<rect x="1885.1" y="1018.0" width="12.8" height="14.6" fill="#000"/>
<rect x="2102.1" y="1058.9" width="12.8" height="14.6" fill="#000"/>
<rect x="2317.8" y="1050.2" width="12.8" height="14.6" fill="#000"/>
<path d="M1459.1 1623.7 L1459.5 1542.1 L1459.8 1471.9 L1460.2 1411.5 L1460.5 1359.5 L1460.9 1314.7 L1461.3 1276.2 L1461.6 1243.0 L1462.0 1214.5 L1462.4 1189.9 L1462.7 1168.7 L1463.1 1150.5 L1463.4 1134.9 L1463.8 1121.4 L1464.2 1109.8 L1464.5 1099.8 L1464.9 1091.2 L1465.2 1083.8 L1465.6 1077.4 L1466.0 1072.0 L1466.3 1067.2 L1466.7 1063.2 L1467.0 1059.7 L1467.4 1056.7 L1467.8 1054.1 L1468.1 1051.9 L1468.5 1049.9 L1468.8 1048.3 L1469.2 1046.9 L1469.6 1045.6 L1469.9 1044.6 L1470.3 1043.7 L1470.6 1042.9 L1471.0 1042.2 L1471.4 1041.7 L1471.7 1041.2 L1472.1 1040.7 L1472.4 1040.4 L1472.8 1040.0 L1473.2 1039.8 L1473.5 1039.5 L1473.9 1039.3 L1474.2 1039.2 L1474.6 1039.0 L1475.0 1038.9 L1475.3 1038.8 L1475.7 1038.7 L1476.1 1038.6 L1476.4 1038.5 L1476.8 1038.5 L1477.1 1038.4 L1477.5 1038.4 L1477.9 1038.3 L1478.2 1038.3 L1478.6 1038.3 L1478.9 1038.2 L1479.3 1038.2 L1479.7 1038.2 L1480.0 1038.2 L1480.4 1038.2 L1480.7 1038.2 L1481.1 1038.1 L1481.5 1038.1 L1481.8 1038.1 L1482.2 1038.1 L1482.5 1038.1 L1482.9 1038.1 L1483.3 1038.1 L1483.6 1038.1 L1484.0 1038.1 L1484.3 1038.1 L1484.7 1038.1 L1485.1 1038.1 L1485.4 1038.1 L1485.8 1038.1 L1486.1 1038.1 L1486.5 1038.1 L1486.9 1038.1 L1487.2 1038.1 L1487.6 1038.1 L1488.0 1038.1 L1488.3 1038.1 L1488.7 1038.1 L1489.0 1038.1 L1489.4 1038.1 L1489.8 1038.1 L1490.1 1038.1 L1490.5 1038.1 L1490.8 1038.1 L1491.2 1038.1 L1491.6 1038.1 L1491.9 1038.1 L1492.3 1038.1 L1492.6 1038.1 L1493.0 1038.1 L1493.4 1038.1 L1493.7 1038.1 L1494.1 1038.1 L1494.4 1038.1 L1494.8 1038.1 L1495.2 1038.1 L1495.5 1038.1 L1495.9 1038.1 L1496.2 1038.1 L1496.6 1038.1 L1497.0 1038.1 L1497.3 1038.1 L1497.7 1038.1 L1498.0 1038.1 L1498.4 1038.1 L1498.8 1038.1 L1499.1 1038.1 L1499.5 1038.1 L1499.8 1038.1 L1500.2 1038.1 L1500.6 1038.1 L1500.9 1038.1 L1501.3 1038.1 L1501.7 1038.1 L1502.0 1038.1 L1502.4 1038.1 L1502.7 1038.1 L1509.9 1038.1 L1517.2 1038.1 L1524.4 1038.1 L1531.6 1038.1 L1538.8 1038.1 L1546.0 1038.1 L1553.2 1038.1 L1560.4 1038.1 L1567.6 1038.1 L1574.8 1038.1 L1582.0 1038.1 L1589.3 1038.1 L1596.5 1038.1 L1603.7 1038.1 L1610.9 1038.1 L1618.1 1038.1 L1625.3 1038.1 L1632.5 1038.1 L1639.7 1038.1 L1646.9 1038.1 L1654.2 1038.1 L1661.4 1038.1 L1668.6 1038.1 L1675.8 1038.1 L1683.0 1038.1 L1690.2 1038.1 L1697.4 1038.1 L1704.6 1038.1 L1711.8 1038.1 L1719.1 1038.1 L1726.3 1038.1 L1733.5 1038.1 L1740.7 1038.1 L1747.9 1038.1 L1755.1 1038.1 L1762.3 1038.1 L1769.5 1038.1 L1776.7 1038.1 L1783.9 1038.1 L1791.2 1038.1 L1798.4 1038.1 L1805.6 1038.1 L1812.8 1038.1 L1820.0 1038.1 L1827.2 1038.1 L1834.4 1038.1 L1841.6 1038.1 L1848.8 1038.1 L1856.1 1038.1 L1863.3 1038.1 L1870.5 1038.1 L1877.7 1038.1 L1884.9 1038.1 L1892.1 1038.1 L1899.3 1038.1 L1906.5 1038.1 L1913.7 1038.1 L1921.0 1038.1 L1928.2 1038.1 L1935.4 1038.1 L1942.6 1038.1 L1949.8 1038.1 L1957.0 1038.1 L1964.2 1038.1 L1971.4 1038.1 L1978.6 1038.1 L1985.8 1038.1 L1993.1 1038.1 L2000.3 1038.1 L2007.5 1038.1 L2014.7 1038.1 L2021.9 1038.1 L2029.1 1038.1 L2036.3 1038.1 L2043.5 1038.1 L2050.7 1038.1 L2058.0 1038.1 L2065.2 1038.1 L2072.4 1038.1 L2079.6 1038.1 L2086.8 1038.1 L2094.0 1038.1 L2101.2 1038.1 L2108.4 1038.1 L2115.6 1038.1 L2122.9 1038.1 L2130.1 1038.1 L2137.3 1038.1 L2144.5 1038.1 L2151.7 1038.1 L2158.9 1038.1 L2166.1 1038.1 L2173.3 1038.1 L2180.5 1038.1 L2187.7 1038.1 L2195.0 1038.1 L2202.2 1038.1 L2209.4 1038.1 L2216.6 1038.1 L2223.8 1038.1 L2231.0 1038.1 L2238.2 1038.1 L2245.4 1038.1 L2252.6 1038.1 L2259.9 1038.1 L2267.1 1038.1 L2274.3 1038.1 L2281.5 1038.1 L2288.7 1038.1 L2295.9 1038.1 L2303.1 1038.1 L2310.3 1038.1 L2317.5 1038.1" stroke="#e8707a" stroke-width="3.2" fill="none" stroke-linejoin="round" stroke-linecap="butt" />
<path d="M1459.1 1623.7 L1459.5 1337.0 L1459.8 1237.7 L1460.2 1187.2 L1460.5 1156.7 L1460.9 1136.3 L1461.3 1121.7 L1461.6 1110.7 L1462.0 1102.1 L1462.4 1095.2 L1462.7 1089.6 L1463.1 1084.9 L1463.4 1080.9 L1463.8 1077.5 L1464.2 1074.5 L1464.5 1071.9 L1464.9 1069.6 L1465.2 1067.6 L1465.6 1065.8 L1466.0 1064.1 L1466.3 1062.7 L1466.7 1061.3 L1467.0 1060.1 L1467.4 1059.0 L1467.8 1057.9 L1468.1 1057.0 L1468.5 1056.1 L1468.8 1055.2 L1469.2 1054.5 L1469.6 1053.8 L1469.9 1053.1 L1470.3 1052.5 L1470.6 1051.9 L1471.0 1051.3 L1471.4 1050.8 L1471.7 1050.3 L1472.1 1049.8 L1472.4 1049.4 L1472.8 1049.0 L1473.2 1048.6 L1473.5 1048.2 L1473.9 1047.8 L1474.2 1047.5 L1474.6 1047.1 L1475.0 1046.8 L1475.3 1046.5 L1475.7 1046.2 L1476.1 1045.9 L1476.4 1045.7 L1476.8 1045.4 L1477.1 1045.2 L1477.5 1044.9 L1477.9 1044.7 L1478.2 1044.5 L1478.6 1044.3 L1478.9 1044.1 L1479.3 1043.9 L1479.7 1043.7 L1480.0 1043.5 L1480.4 1043.3 L1480.7 1043.2 L1481.1 1043.0 L1481.5 1042.8 L1481.8 1042.7 L1482.2 1042.5 L1482.5 1042.4 L1482.9 1042.3 L1483.3 1042.1 L1483.6 1042.0 L1484.0 1041.9 L1484.3 1041.7 L1484.7 1041.6 L1485.1 1041.5 L1485.4 1041.4 L1485.8 1041.3 L1486.1 1041.1 L1486.5 1041.0 L1486.9 1040.9 L1487.2 1040.8 L1487.6 1040.7 L1488.0 1040.6 L1488.3 1040.5 L1488.7 1040.5 L1489.0 1040.4 L1489.4 1040.3 L1489.8 1040.2 L1490.1 1040.1 L1490.5 1040.0 L1490.8 1039.9 L1491.2 1039.9 L1491.6 1039.8 L1491.9 1039.7 L1492.3 1039.6 L1492.6 1039.6 L1493.0 1039.5 L1493.4 1039.4 L1493.7 1039.4 L1494.1 1039.3 L1494.4 1039.2 L1494.8 1039.2 L1495.2 1039.1 L1495.5 1039.1 L1495.9 1039.0 L1496.2 1038.9 L1496.6 1038.9 L1497.0 1038.8 L1497.3 1038.8 L1497.7 1038.7 L1498.0 1038.7 L1498.4 1038.6 L1498.8 1038.6 L1499.1 1038.5 L1499.5 1038.5 L1499.8 1038.4 L1500.2 1038.4 L1500.6 1038.3 L1500.9 1038.3 L1501.3 1038.2 L1501.7 1038.2 L1502.0 1038.1 L1502.4 1038.1 L1502.7 1038.0 L1509.9 1037.3 L1517.2 1036.8 L1524.4 1036.4 L1531.6 1036.0 L1538.8 1035.7 L1546.0 1035.5 L1553.2 1035.3 L1560.4 1035.1 L1567.6 1035.0 L1574.8 1034.9 L1582.0 1034.7 L1589.3 1034.6 L1596.5 1034.6 L1603.7 1034.5 L1610.9 1034.4 L1618.1 1034.3 L1625.3 1034.3 L1632.5 1034.2 L1639.7 1034.2 L1646.9 1034.1 L1654.2 1034.1 L1661.4 1034.0 L1668.6 1034.0 L1675.8 1034.0 L1683.0 1033.9 L1690.2 1033.9 L1697.4 1033.9 L1704.6 1033.8 L1711.8 1033.8 L1719.1 1033.8 L1726.3 1033.8 L1733.5 1033.7 L1740.7 1033.7 L1747.9 1033.7 L1755.1 1033.7 L1762.3 1033.7 L1769.5 1033.6 L1776.7 1033.6 L1783.9 1033.6 L1791.2 1033.6 L1798.4 1033.6 L1805.6 1033.6 L1812.8 1033.5 L1820.0 1033.5 L1827.2 1033.5 L1834.4 1033.5 L1841.6 1033.5 L1848.8 1033.5 L1856.1 1033.5 L1863.3 1033.5 L1870.5 1033.5 L1877.7 1033.4 L1884.9 1033.4 L1892.1 1033.4 L1899.3 1033.4 L1906.5 1033.4 L1913.7 1033.4 L1921.0 1033.4 L1928.2 1033.4 L1935.4 1033.4 L1942.6 1033.4 L1949.8 1033.4 L1957.0 1033.4 L1964.2 1033.4 L1971.4 1033.4 L1978.6 1033.3 L1985.8 1033.3 L1993.1 1033.3 L2000.3 1033.3 L2007.5 1033.3 L2014.7 1033.3 L2021.9 1033.3 L2029.1 1033.3 L2036.3 1033.3 L2043.5 1033.3 L2050.7 1033.3 L2058.0 1033.3 L2065.2 1033.3 L2072.4 1033.3 L2079.6 1033.3 L2086.8 1033.3 L2094.0 1033.3 L2101.2 1033.3 L2108.4 1033.3 L2115.6 1033.3 L2122.9 1033.3 L2130.1 1033.2 L2137.3 1033.2 L2144.5 1033.2 L2151.7 1033.2 L2158.9 1033.2 L2166.1 1033.2 L2173.3 1033.2 L2180.5 1033.2 L2187.7 1033.2 L2195.0 1033.2 L2202.2 1033.2 L2209.4 1033.2 L2216.6 1033.2 L2223.8 1033.2 L2231.0 1033.2 L2238.2 1033.2 L2245.4 1033.2 L2252.6 1033.2 L2259.9 1033.2 L2267.1 1033.2 L2274.3 1033.2 L2281.5 1033.2 L2288.7 1033.2 L2295.9 1033.2 L2303.1 1033.2 L2310.3 1033.2 L2317.5 1033.2" stroke="#6a6ad6" stroke-width="3.2" fill="none" stroke-linejoin="round" stroke-linecap="butt" />
<path d="M1459.1 1623.7 L1459.5 1539.6 L1459.8 1467.6 L1460.2 1405.9 L1460.5 1353.1 L1460.9 1307.9 L1461.3 1269.1 L1461.6 1236.0 L1462.0 1207.5 L1462.4 1183.2 L1462.7 1162.4 L1463.1 1144.5 L1463.4 1129.2 L1463.8 1116.2 L1464.2 1104.9 L1464.5 1095.3 L1464.9 1087.1 L1465.2 1080.1 L1465.6 1074.0 L1466.0 1068.9 L1466.3 1064.5 L1466.7 1060.7 L1467.0 1057.4 L1467.4 1054.7 L1467.8 1052.3 L1468.1 1050.2 L1468.5 1048.5 L1468.8 1047.0 L1469.2 1045.7 L1469.6 1044.6 L1469.9 1043.7 L1470.3 1042.9 L1470.6 1042.2 L1471.0 1041.6 L1471.4 1041.1 L1471.7 1040.7 L1472.1 1040.3 L1472.4 1040.0 L1472.8 1039.7 L1473.2 1039.5 L1473.5 1039.3 L1473.9 1039.1 L1474.2 1039.0 L1474.6 1038.8 L1475.0 1038.7 L1475.3 1038.6 L1475.7 1038.5 L1476.1 1038.5 L1476.4 1038.4 L1476.8 1038.4 L1477.1 1038.3 L1477.5 1038.3 L1477.9 1038.3 L1478.2 1038.2 L1478.6 1038.2 L1478.9 1038.2 L1479.3 1038.2 L1479.7 1038.2 L1480.0 1038.2 L1480.4 1038.1 L1480.7 1038.1 L1481.1 1038.1 L1481.5 1038.1 L1481.8 1038.1 L1482.2 1038.1 L1482.5 1038.1 L1482.9 1038.1 L1483.3 1038.1 L1483.6 1038.1 L1484.0 1038.1 L1484.3 1038.1 L1484.7 1038.1 L1485.1 1038.1 L1485.4 1038.1 L1485.8 1038.1 L1486.1 1038.1 L1486.5 1038.1 L1486.9 1038.1 L1487.2 1038.1 L1487.6 1038.1 L1488.0 1038.1 L1488.3 1038.1 L1488.7 1038.1 L1489.0 1038.1 L1489.4 1038.1 L1489.8 1038.1 L1490.1 1038.1 L1490.5 1038.1 L1490.8 1038.1 L1491.2 1038.1 L1491.6 1038.1 L1491.9 1038.1 L1492.3 1038.1 L1492.6 1038.1 L1493.0 1038.1 L1493.4 1038.1 L1493.7 1038.1 L1494.1 1038.1 L1494.4 1038.1 L1494.8 1038.1 L1495.2 1038.1 L1495.5 1038.1 L1495.9 1038.1 L1496.2 1038.1 L1496.6 1038.1 L1497.0 1038.1 L1497.3 1038.1 L1497.7 1038.1 L1498.0 1038.1 L1498.4 1038.1 L1498.8 1038.1 L1499.1 1038.1 L1499.5 1038.1 L1499.8 1038.1 L1500.2 1038.1 L1500.6 1038.1 L1500.9 1038.1 L1501.3 1038.1 L1501.7 1038.1 L1502.0 1038.1 L1502.4 1038.1 L1502.7 1038.1 L1509.9 1038.1 L1517.2 1038.1 L1524.4 1038.1 L1531.6 1038.1 L1538.8 1038.1 L1546.0 1038.1 L1553.2 1038.1 L1560.4 1038.1 L1567.6 1038.1 L1574.8 1038.1 L1582.0 1038.1 L1589.3 1038.1 L1596.5 1038.1 L1603.7 1038.1 L1610.9 1038.1 L1618.1 1038.1 L1625.3 1038.1 L1632.5 1038.1 L1639.7 1038.1 L1646.9 1038.1 L1654.2 1038.1 L1661.4 1038.1 L1668.6 1038.1 L1675.8 1038.1 L1683.0 1038.1 L1690.2 1038.1 L1697.4 1038.1 L1704.6 1038.1 L1711.8 1038.1 L1719.1 1038.1 L1726.3 1038.1 L1733.5 1038.1 L1740.7 1038.1 L1747.9 1038.1 L1755.1 1038.1 L1762.3 1038.1 L1769.5 1038.1 L1776.7 1038.1 L1783.9 1038.1 L1791.2 1038.1 L1798.4 1038.1 L1805.6 1038.1 L1812.8 1038.1 L1820.0 1038.1 L1827.2 1038.1 L1834.4 1038.1 L1841.6 1038.1 L1848.8 1038.1 L1856.1 1038.1 L1863.3 1038.1 L1870.5 1038.1 L1877.7 1038.1 L1884.9 1038.1 L1892.1 1038.1 L1899.3 1038.1 L1906.5 1038.1 L1913.7 1038.1 L1921.0 1038.1 L1928.2 1038.1 L1935.4 1038.1 L1942.6 1038.1 L1949.8 1038.1 L1957.0 1038.1 L1964.2 1038.1 L1971.4 1038.1 L1978.6 1038.1 L1985.8 1038.1 L1993.1 1038.1 L2000.3 1038.1 L2007.5 1038.1 L2014.7 1038.1 L2021.9 1038.1 L2029.1 1038.1 L2036.3 1038.1 L2043.5 1038.1 L2050.7 1038.1 L2058.0 1038.1 L2065.2 1038.1 L2072.4 1038.1 L2079.6 1038.1 L2086.8 1038.1 L2094.0 1038.1 L2101.2 1038.1 L2108.4 1038.1 L2115.6 1038.1 L2122.9 1038.1 L2130.1 1038.1 L2137.3 1038.1 L2144.5 1038.1 L2151.7 1038.1 L2158.9 1038.1 L2166.1 1038.1 L2173.3 1038.1 L2180.5 1038.1 L2187.7 1038.1 L2195.0 1038.1 L2202.2 1038.1 L2209.4 1038.1 L2216.6 1038.1 L2223.8 1038.1 L2231.0 1038.1 L2238.2 1038.1 L2245.4 1038.1 L2252.6 1038.1 L2259.9 1038.1 L2267.1 1038.1 L2274.3 1038.1 L2281.5 1038.1 L2288.7 1038.1 L2295.9 1038.1 L2303.1 1038.1 L2310.3 1038.1 L2317.5 1038.1" stroke="#8ade8a" stroke-width="3.2" fill="none" stroke-linejoin="round" stroke-linecap="butt" />
<rect x="1792.7" y="1406.2" width="15" height="15" fill="#000"/>
<text font-family="'Liberation Serif', 'Times New Roman', serif" font-size="45.6" fill="#141414"><tspan x="1862.3" y="1427.6">CIP-0.50 mmol L</tspan><tspan x="2185.8" y="1409.1" font-size="27">&#8722;</tspan><tspan x="2202.6" y="1409.1" font-size="27">1</tspan><tspan x="2215.9" y="1427.6">- SBA-15</tspan></text>
<path d="M1747.3 1468.5 L1851.4 1468.5" stroke="#e8707a" stroke-width="3.2" fill="none" stroke-linejoin="round" stroke-linecap="butt" />
<text x="1862.7" y="1485.7" font-family="'Liberation Serif', 'Times New Roman', serif" font-size="45.6" text-anchor="start" fill="#141414" >PFO</text>
<path d="M1747.3 1526.9 L1851.4 1526.9" stroke="#6a6ad6" stroke-width="3.2" fill="none" stroke-linejoin="round" stroke-linecap="butt" />
<text x="1862.7" y="1541.5" font-family="'Liberation Serif', 'Times New Roman', serif" font-size="45.6" text-anchor="start" fill="#141414" >PSO</text>
<path d="M1747.3 1583.5 L1851.4 1583.5" stroke="#8ade8a" stroke-width="3.2" fill="none" stroke-linejoin="round" stroke-linecap="butt" />
<text x="1862.7" y="1599.9" font-family="'Liberation Serif', 'Times New Roman', serif" font-size="45.6" text-anchor="start" fill="#141414" >ERMT</text>
<rect x="169.6" y="1743.7" width="1028.8" height="827.7" fill="none" stroke="#585858" stroke-width="3.6"/>
<path d="M209.2 2571.4v16 M367.4 2571.4v16 M525.7 2571.4v16 M684.0 2571.4v16 M842.3 2571.4v16 M1000.6 2571.4v16 M1158.8 2571.4v16 M288.3 2571.4v8 M446.6 2571.4v8 M604.9 2571.4v8 M763.1 2571.4v8 M921.4 2571.4v8 M1079.7 2571.4v8 M169.6 2519.7h-16 M169.6 2416.2h-16 M169.6 2312.7h-16 M169.6 2209.3h-16 M169.6 2105.8h-16 M169.6 2002.4h-16 M169.6 1898.9h-16 M169.6 1795.4h-16 M169.6 2571.4h-8 M169.6 2467.9h-8 M169.6 2364.5h-8 M169.6 2261.0h-8 M169.6 2157.6h-8 M169.6 2054.1h-8 M169.6 1950.6h-8 M169.6 1847.2h-8 M169.6 1743.7h-8" stroke="#505050" stroke-width="3" fill="none"/>
<text x="141.0" y="2529.7" font-family="'Liberation Serif', 'Times New Roman', serif" font-size="36" text-anchor="end" fill="#1e1e1e" >0.00</text>
<text x="141.0" y="2426.2" font-family="'Liberation Serif', 'Times New Roman', serif" font-size="36" text-anchor="end" fill="#1e1e1e" >0.02</text>
<text x="141.0" y="2322.7" font-family="'Liberation Serif', 'Times New Roman', serif" font-size="36" text-anchor="end" fill="#1e1e1e" >0.04</text>
<text x="141.0" y="2219.3" font-family="'Liberation Serif', 'Times New Roman', serif" font-size="36" text-anchor="end" fill="#1e1e1e" >0.06</text>
<text x="141.0" y="2115.8" font-family="'Liberation Serif', 'Times New Roman', serif" font-size="36" text-anchor="end" fill="#1e1e1e" >0.08</text>
<text x="141.0" y="2012.4" font-family="'Liberation Serif', 'Times New Roman', serif" font-size="36" text-anchor="end" fill="#1e1e1e" >0.10</text>
<text x="141.0" y="1908.9" font-family="'Liberation Serif', 'Times New Roman', serif" font-size="36" text-anchor="end" fill="#1e1e1e" >0.12</text>
<text x="141.0" y="1805.4" font-family="'Liberation Serif', 'Times New Roman', serif" font-size="36" text-anchor="end" fill="#1e1e1e" >0.14</text>
<text x="209.2" y="2626.0" font-family="'Liberation Serif', 'Times New Roman', serif" font-size="34" text-anchor="middle" fill="#1e1e1e" >0</text>
<text x="367.4" y="2626.0" font-family="'Liberation Serif', 'Times New Roman', serif" font-size="34" text-anchor="middle" fill="#1e1e1e" >2</text>
<text x="525.7" y="2626.0" font-family="'Liberation Serif', 'Times New Roman', serif" font-size="34" text-anchor="middle" fill="#1e1e1e" >4</text>
<text x="684.0" y="2626.0" font-family="'Liberation Serif', 'Times New Roman', serif" font-size="34" text-anchor="middle" fill="#1e1e1e" >6</text>
<text x="842.3" y="2626.0" font-family="'Liberation Serif', 'Times New Roman', serif" font-size="34" text-anchor="middle" fill="#1e1e1e" >8</text>
<text x="1000.6" y="2626.0" font-family="'Liberation Serif', 'Times New Roman', serif" font-size="34" text-anchor="middle" fill="#1e1e1e" >10</text>
<text x="1158.8" y="2626.0" font-family="'Liberation Serif', 'Times New Roman', serif" font-size="34" text-anchor="middle" fill="#1e1e1e" >12</text>
<text font-family="'Liberation Sans', Arial, sans-serif" fill="#141414"><tspan x="637" y="2702" font-size="50">t</tspan><tspan x="651" y="2677" font-size="39.5">(0.5)</tspan></text>
<text transform="translate(1151.3,1819.6) scale(0.95,1)" font-family="'Liberation Serif', 'Times New Roman', serif" font-size="74" text-anchor="middle" fill="#141414" >(e)</text>
<text transform="translate(57.2,2157.5) rotate(-90)" font-family="'Liberation Serif', 'Times New Roman', serif" font-size="52.8" text-anchor="middle" fill="#141414"><tspan font-style="italic">q</tspan> (mmol L<tspan font-size="31.7" dy="-21.1" dx="2">&#8722;1</tspan><tspan dy="21.1">)</tspan></text>
<path d="M209.6 2519.0 L274.3 1917.6" stroke="#6e6e6e" stroke-width="2" fill="none" stroke-linejoin="round" stroke-linecap="butt" />
<path d="M209.6 2519.0 L260.9 2062.5" stroke="#6e6e6e" stroke-width="2" fill="none" stroke-linejoin="round" stroke-linecap="butt" />
<path d="M209.6 2519.0 L284.6 2246.4" stroke="#6e6e6e" stroke-width="2" fill="none" stroke-linejoin="round" stroke-linecap="butt" />
<path d="M288.7 1904.2 L563.0 1832.5" stroke="#e4a8a8" stroke-width="2.4" fill="none" stroke-linejoin="round" stroke-linecap="butt" />
<path d="M561.5 1820.5 L1124.7 1906.2" stroke="#a0a0a0" stroke-width="3" fill="none" stroke-linejoin="round" stroke-linecap="butt" />
<path d="M322.0 2030.3 L560.0 1952.7" stroke="#e4a8a8" stroke-width="2.4" fill="none" stroke-linejoin="round" stroke-linecap="butt" />
<path d="M568.7 1952.1 L1103.6 1989.4" stroke="#a0a0a0" stroke-width="3" fill="none" stroke-linejoin="round" stroke-linecap="butt" />
<path d="M310.0 2229.4 L610.0 2172.5" stroke="#e4a8a8" stroke-width="2.4" fill="none" stroke-linejoin="round" stroke-linecap="butt" />
<path d="M610.0 2171.4 L1118.7 2239.2" stroke="#a0a0a0" stroke-width="3" fill="none" stroke-linejoin="round" stroke-linecap="butt" />
<circle cx="209.6" cy="2519.0" r="9.5" fill="#200808"/>
<path d="M209.6 2508.0L220.6 2528.0L198.6 2528.0Z" fill="#080820"/>
<circle cx="288.1" cy="2234.1" r="9.5" fill="#f01010"/>
<circle cx="305.6" cy="2236.4" r="9.5" fill="#f01010"/>
<circle cx="346.2" cy="2221.3" r="9.5" fill="#f01010"/>
<circle cx="367.1" cy="2214.3" r="9.5" fill="#f01010"/>
<circle cx="458.9" cy="2207.4" r="9.5" fill="#f01010"/>
<circle cx="515.8" cy="2176.0" r="9.5" fill="#f01010"/>
<circle cx="563.4" cy="2186.0" r="9.5" fill="#f01010"/>
<circle cx="641.9" cy="2179.0" r="9.5" fill="#f01010"/>
<circle cx="822.5" cy="2226.4" r="9.5" fill="#f01010"/>
<circle cx="959.8" cy="2226.1" r="9.5" fill="#f01010"/>
<circle cx="1075.5" cy="2232.2" r="9.5" fill="#f01010"/>
<path d="M265.0 2044.3L276.0 2064.3L254.0 2064.3Z" fill="#1010e0"/>
<path d="M288.3 2039.1L299.3 2059.1L277.3 2059.1Z" fill="#1010e0"/>
<path d="M306.8 2022.7L317.8 2042.7L295.8 2042.7Z" fill="#1010e0"/>
<path d="M321.5 2021.7L332.5 2041.7L310.5 2041.7Z" fill="#1010e0"/>
<path d="M459.5 1950.1L470.5 1970.1L448.5 1970.1Z" fill="#1010e0"/>
<path d="M563.3 1956.5L574.3 1976.5L552.3 1976.5Z" fill="#1010e0"/>
<path d="M822.5 1960.2L833.5 1980.2L811.5 1980.2Z" fill="#1010e0"/>
<path d="M959.8 1973.0L970.8 1993.0L948.8 1993.0Z" fill="#1010e0"/>
<path d="M1076.1 1973.0L1087.1 1993.0L1065.1 1993.0Z" fill="#1010e0"/>
<rect x="201.1" y="2510.5" width="17" height="17" fill="#000"/>
<rect x="257.6" y="1898.8" width="17" height="17" fill="#000"/>
<rect x="279.8" y="1916.9" width="17" height="17" fill="#000"/>
<rect x="337.7" y="1867.9" width="17" height="17" fill="#000"/>
<rect x="359.3" y="1860.7" width="17" height="17" fill="#000"/>
<rect x="451.1" y="1855.6" width="17" height="17" fill="#000"/>
<rect x="507.4" y="1842.2" width="17" height="17" fill="#000"/>
<rect x="554.9" y="1829.5" width="17" height="17" fill="#000"/>
<rect x="814.0" y="1850.8" width="17" height="17" fill="#000"/>
<rect x="951.7" y="1895.7" width="17" height="17" fill="#000"/>
<rect x="1067.0" y="1886.0" width="17" height="17" fill="#000"/>
<circle cx="584.4" cy="2403.8" r="9.5" fill="#f01010"/>
<path d="M584.4 2455.9L595.4 2475.9L573.4 2475.9Z" fill="#1010e0"/>
<rect x="575.9" y="2523.5" width="17" height="17" fill="#000"/>
<text font-family="'Liberation Serif', 'Times New Roman', serif" font-size="46.3" fill="#141414"><tspan x="648.0" y="2418.8">CIP-0.15 mmol L</tspan><tspan x="980.2" y="2400.3" font-size="27">&#8722;</tspan><tspan x="997.0" y="2400.3" font-size="27">1</tspan><tspan x="1013.1" y="2418.8">-SBA-15</tspan></text>
<text font-family="'Liberation Serif', 'Times New Roman', serif" font-size="46.3" fill="#141414"><tspan x="648.0" y="2483.2">CIP-0.30 mmol L</tspan><tspan x="980.2" y="2464.7" font-size="27">&#8722;</tspan><tspan x="997.0" y="2464.7" font-size="27">1</tspan><tspan x="1013.1" y="2483.2">-SBA-15</tspan></text>
<text font-family="'Liberation Serif', 'Times New Roman', serif" font-size="46.3" fill="#141414"><tspan x="648.0" y="2547.7">CIP-0.50 mmol L</tspan><tspan x="980.2" y="2529.2" font-size="27">&#8722;</tspan><tspan x="997.0" y="2529.2" font-size="27">1</tspan><tspan x="1013.1" y="2547.7">-SBA-15</tspan></text>
</g>
</svg></body></html>
